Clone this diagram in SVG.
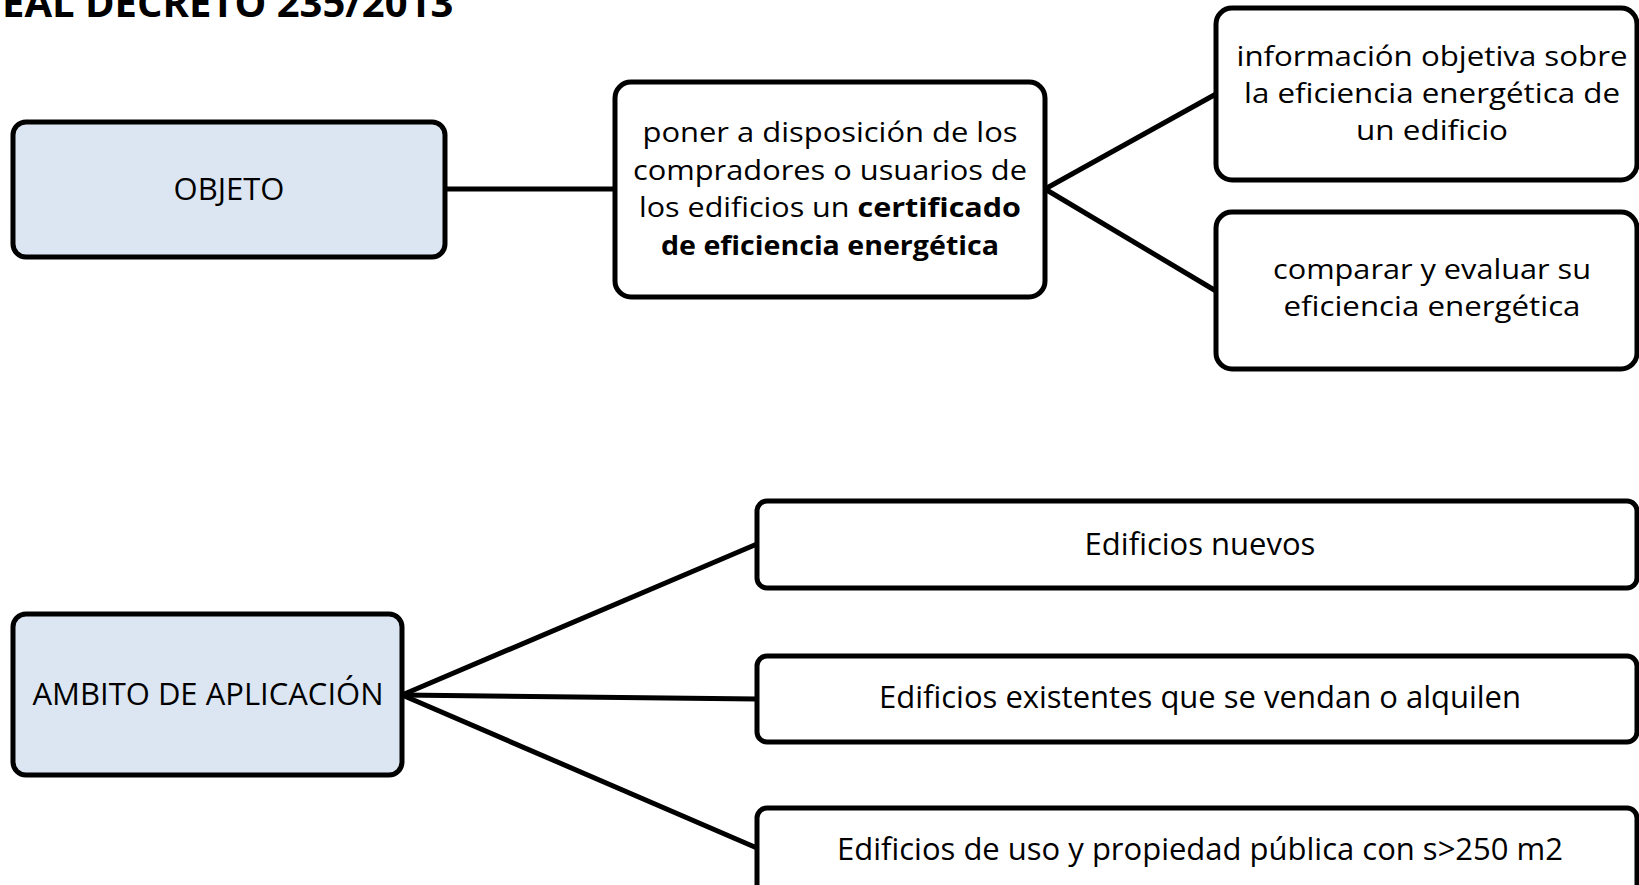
<svg xmlns="http://www.w3.org/2000/svg" width="1639" height="885" viewBox="0 0 1639 885">
<style>
.box{fill:#ffffff;stroke:#000000;stroke-width:5}
.blue{fill:#dce6f2;stroke:#000000;stroke-width:5}
.t{font-family:"Open Sans","Noto Sans","Liberation Sans",sans-serif;font-size:31px;fill:#000000;text-anchor:middle}
.m{font-family:"Open Sans","Noto Sans","Liberation Sans",sans-serif;font-size:27.5px;fill:#000000;text-anchor:middle}
.b{font-weight:bold}
.title{font-family:"Open Sans","Noto Sans","Liberation Sans",sans-serif;font-size:40px;font-weight:bold;fill:#000000}
.c{stroke:#000000;stroke-width:5;fill:none}
</style>
<rect width="1639" height="885" fill="#ffffff"/>
<text class="title" x="2" y="17">EAL DECRETO 235/2013</text>
<g id="connectors">
<line class="c" x1="445" y1="189" x2="615" y2="189"/>
<line class="c" x1="1045" y1="189" x2="1216" y2="94"/>
<line class="c" x1="1045" y1="189" x2="1216" y2="291"/>
<line class="c" x1="402" y1="695" x2="757" y2="544"/>
<line class="c" x1="402" y1="695" x2="757" y2="699"/>
<line class="c" x1="402" y1="695" x2="757" y2="848"/>
</g>
<g id="objeto">
<rect class="blue" x="13" y="122" width="432" height="135" rx="13"/>
<text class="t" x="229" y="200">OBJETO</text>
</g>
<g id="certificado">
<rect class="box" x="615" y="82" width="430" height="215" rx="16"/>
<text class="m" x="830" y="142" textLength="375" lengthAdjust="spacingAndGlyphs">poner a disposición de los</text>
<text class="m" x="830" y="180" textLength="394" lengthAdjust="spacingAndGlyphs">compradores o usuarios de</text>
<text class="m" x="830" y="217" textLength="382" lengthAdjust="spacingAndGlyphs">los edificios un <tspan class="b">certificado</tspan></text>
<text class="m b" x="830" y="255" textLength="338" lengthAdjust="spacingAndGlyphs">de eficiencia energética</text>
</g>
<g id="informacion">
<rect class="box" x="1216" y="8" width="421" height="172" rx="16"/>
<text class="m" x="1432" y="66" textLength="391" lengthAdjust="spacingAndGlyphs">información objetiva sobre</text>
<text class="m" x="1432" y="103" textLength="376" lengthAdjust="spacingAndGlyphs">la eficiencia energética de</text>
<text class="m" x="1432" y="140" textLength="152" lengthAdjust="spacingAndGlyphs">un edificio</text>
</g>
<g id="comparar">
<rect class="box" x="1216" y="212" width="421" height="157" rx="16"/>
<text class="m" x="1432" y="279" textLength="318" lengthAdjust="spacingAndGlyphs">comparar y evaluar su</text>
<text class="m" x="1432" y="316" textLength="297" lengthAdjust="spacingAndGlyphs">eficiencia energética</text>
</g>
<g id="ambito">
<rect class="blue" x="13" y="614" width="389" height="161" rx="13"/>
<text class="t" x="208" y="705">AMBITO DE APLICACIÓN</text>
</g>
<g id="nuevos">
<rect class="box" x="757" y="501" width="880" height="87" rx="10"/>
<text class="t" x="1200" y="555">Edificios nuevos</text>
</g>
<g id="existentes">
<rect class="box" x="757" y="656" width="880" height="86" rx="10"/>
<text class="t" x="1200" y="708">Edificios existentes que se vendan o alquilen</text>
</g>
<g id="publicos">
<rect class="box" x="757" y="808" width="880" height="100" rx="10"/>
<text class="t" x="1200" y="860">Edificios de uso y propiedad pública con s&gt;250 m2</text>
</g>
</svg>
